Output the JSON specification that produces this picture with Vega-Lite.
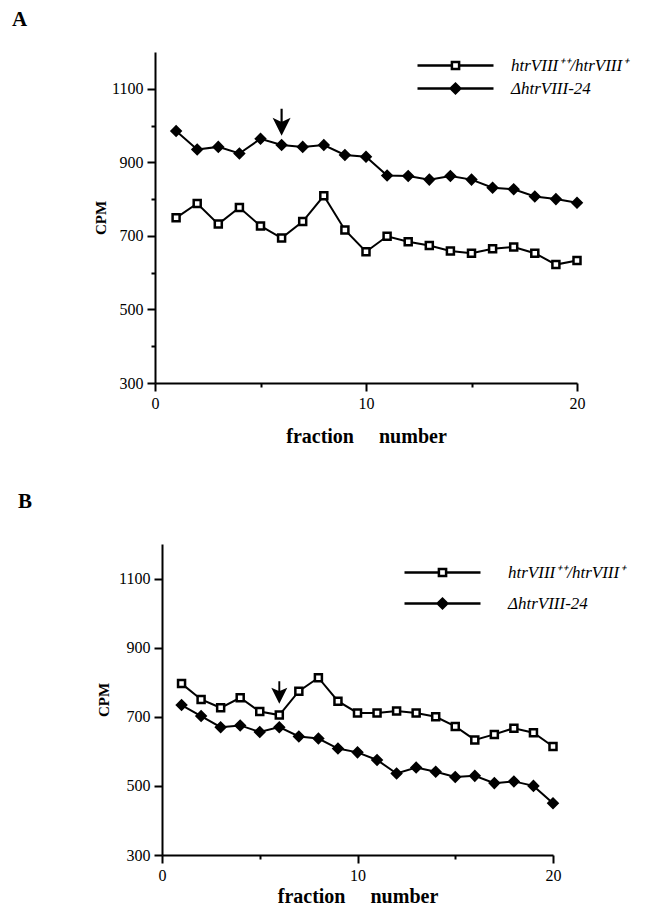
{
  "$schema": "https://vega.github.io/schema/vega-lite/v6.json",
  "background": "white",
  "padding": {"left": 12, "top": 9, "right": 5, "bottom": 0},
  "spacing": 45,
  "resolve": {"scale": {"shape": "independent", "fill": "independent", "stroke": "independent"}, "legend": {"shape": "independent", "fill": "independent", "stroke": "independent"}},
  "datasets": {
    "counts": [
      {"panel": "A", "fraction": 1, "cpm": 985, "strain": "ΔhtrVIII-24"},
      {"panel": "A", "fraction": 2, "cpm": 935, "strain": "ΔhtrVIII-24"},
      {"panel": "A", "fraction": 3, "cpm": 942, "strain": "ΔhtrVIII-24"},
      {"panel": "A", "fraction": 4, "cpm": 924, "strain": "ΔhtrVIII-24"},
      {"panel": "A", "fraction": 5, "cpm": 964, "strain": "ΔhtrVIII-24"},
      {"panel": "A", "fraction": 6, "cpm": 947, "strain": "ΔhtrVIII-24"},
      {"panel": "A", "fraction": 7, "cpm": 942, "strain": "ΔhtrVIII-24"},
      {"panel": "A", "fraction": 8, "cpm": 947, "strain": "ΔhtrVIII-24"},
      {"panel": "A", "fraction": 9, "cpm": 920, "strain": "ΔhtrVIII-24"},
      {"panel": "A", "fraction": 10, "cpm": 915, "strain": "ΔhtrVIII-24"},
      {"panel": "A", "fraction": 11, "cpm": 864, "strain": "ΔhtrVIII-24"},
      {"panel": "A", "fraction": 12, "cpm": 863, "strain": "ΔhtrVIII-24"},
      {"panel": "A", "fraction": 13, "cpm": 853, "strain": "ΔhtrVIII-24"},
      {"panel": "A", "fraction": 14, "cpm": 863, "strain": "ΔhtrVIII-24"},
      {"panel": "A", "fraction": 15, "cpm": 853, "strain": "ΔhtrVIII-24"},
      {"panel": "A", "fraction": 16, "cpm": 831, "strain": "ΔhtrVIII-24"},
      {"panel": "A", "fraction": 17, "cpm": 827, "strain": "ΔhtrVIII-24"},
      {"panel": "A", "fraction": 18, "cpm": 807, "strain": "ΔhtrVIII-24"},
      {"panel": "A", "fraction": 19, "cpm": 800, "strain": "ΔhtrVIII-24"},
      {"panel": "A", "fraction": 20, "cpm": 790, "strain": "ΔhtrVIII-24"},
      {"panel": "A", "fraction": 1, "cpm": 749, "strain": "htrVIII⁺⁺/htrVIII⁺"},
      {"panel": "A", "fraction": 2, "cpm": 788, "strain": "htrVIII⁺⁺/htrVIII⁺"},
      {"panel": "A", "fraction": 3, "cpm": 732, "strain": "htrVIII⁺⁺/htrVIII⁺"},
      {"panel": "A", "fraction": 4, "cpm": 777, "strain": "htrVIII⁺⁺/htrVIII⁺"},
      {"panel": "A", "fraction": 5, "cpm": 727, "strain": "htrVIII⁺⁺/htrVIII⁺"},
      {"panel": "A", "fraction": 6, "cpm": 694, "strain": "htrVIII⁺⁺/htrVIII⁺"},
      {"panel": "A", "fraction": 7, "cpm": 739, "strain": "htrVIII⁺⁺/htrVIII⁺"},
      {"panel": "A", "fraction": 8, "cpm": 809, "strain": "htrVIII⁺⁺/htrVIII⁺"},
      {"panel": "A", "fraction": 9, "cpm": 716, "strain": "htrVIII⁺⁺/htrVIII⁺"},
      {"panel": "A", "fraction": 10, "cpm": 657, "strain": "htrVIII⁺⁺/htrVIII⁺"},
      {"panel": "A", "fraction": 11, "cpm": 699, "strain": "htrVIII⁺⁺/htrVIII⁺"},
      {"panel": "A", "fraction": 12, "cpm": 684, "strain": "htrVIII⁺⁺/htrVIII⁺"},
      {"panel": "A", "fraction": 13, "cpm": 674, "strain": "htrVIII⁺⁺/htrVIII⁺"},
      {"panel": "A", "fraction": 14, "cpm": 659, "strain": "htrVIII⁺⁺/htrVIII⁺"},
      {"panel": "A", "fraction": 15, "cpm": 653, "strain": "htrVIII⁺⁺/htrVIII⁺"},
      {"panel": "A", "fraction": 16, "cpm": 665, "strain": "htrVIII⁺⁺/htrVIII⁺"},
      {"panel": "A", "fraction": 17, "cpm": 670, "strain": "htrVIII⁺⁺/htrVIII⁺"},
      {"panel": "A", "fraction": 18, "cpm": 653, "strain": "htrVIII⁺⁺/htrVIII⁺"},
      {"panel": "A", "fraction": 19, "cpm": 622, "strain": "htrVIII⁺⁺/htrVIII⁺"},
      {"panel": "A", "fraction": 20, "cpm": 633, "strain": "htrVIII⁺⁺/htrVIII⁺"},
      {"panel": "B", "fraction": 1, "cpm": 734, "strain": "ΔhtrVIII-24"},
      {"panel": "B", "fraction": 2, "cpm": 702, "strain": "ΔhtrVIII-24"},
      {"panel": "B", "fraction": 3, "cpm": 670, "strain": "ΔhtrVIII-24"},
      {"panel": "B", "fraction": 4, "cpm": 675, "strain": "ΔhtrVIII-24"},
      {"panel": "B", "fraction": 5, "cpm": 656, "strain": "ΔhtrVIII-24"},
      {"panel": "B", "fraction": 6, "cpm": 670, "strain": "ΔhtrVIII-24"},
      {"panel": "B", "fraction": 7, "cpm": 643, "strain": "ΔhtrVIII-24"},
      {"panel": "B", "fraction": 8, "cpm": 637, "strain": "ΔhtrVIII-24"},
      {"panel": "B", "fraction": 9, "cpm": 608, "strain": "ΔhtrVIII-24"},
      {"panel": "B", "fraction": 10, "cpm": 597, "strain": "ΔhtrVIII-24"},
      {"panel": "B", "fraction": 11, "cpm": 575, "strain": "ΔhtrVIII-24"},
      {"panel": "B", "fraction": 12, "cpm": 536, "strain": "ΔhtrVIII-24"},
      {"panel": "B", "fraction": 13, "cpm": 553, "strain": "ΔhtrVIII-24"},
      {"panel": "B", "fraction": 14, "cpm": 541, "strain": "ΔhtrVIII-24"},
      {"panel": "B", "fraction": 15, "cpm": 526, "strain": "ΔhtrVIII-24"},
      {"panel": "B", "fraction": 16, "cpm": 529, "strain": "ΔhtrVIII-24"},
      {"panel": "B", "fraction": 17, "cpm": 508, "strain": "ΔhtrVIII-24"},
      {"panel": "B", "fraction": 18, "cpm": 513, "strain": "ΔhtrVIII-24"},
      {"panel": "B", "fraction": 19, "cpm": 500, "strain": "ΔhtrVIII-24"},
      {"panel": "B", "fraction": 20, "cpm": 450, "strain": "ΔhtrVIII-24"},
      {"panel": "B", "fraction": 1, "cpm": 796, "strain": "htrVIII⁺⁺/htrVIII⁺"},
      {"panel": "B", "fraction": 2, "cpm": 750, "strain": "htrVIII⁺⁺/htrVIII⁺"},
      {"panel": "B", "fraction": 3, "cpm": 726, "strain": "htrVIII⁺⁺/htrVIII⁺"},
      {"panel": "B", "fraction": 4, "cpm": 755, "strain": "htrVIII⁺⁺/htrVIII⁺"},
      {"panel": "B", "fraction": 5, "cpm": 715, "strain": "htrVIII⁺⁺/htrVIII⁺"},
      {"panel": "B", "fraction": 6, "cpm": 705, "strain": "htrVIII⁺⁺/htrVIII⁺"},
      {"panel": "B", "fraction": 7, "cpm": 774, "strain": "htrVIII⁺⁺/htrVIII⁺"},
      {"panel": "B", "fraction": 8, "cpm": 813, "strain": "htrVIII⁺⁺/htrVIII⁺"},
      {"panel": "B", "fraction": 9, "cpm": 745, "strain": "htrVIII⁺⁺/htrVIII⁺"},
      {"panel": "B", "fraction": 10, "cpm": 711, "strain": "htrVIII⁺⁺/htrVIII⁺"},
      {"panel": "B", "fraction": 11, "cpm": 711, "strain": "htrVIII⁺⁺/htrVIII⁺"},
      {"panel": "B", "fraction": 12, "cpm": 717, "strain": "htrVIII⁺⁺/htrVIII⁺"},
      {"panel": "B", "fraction": 13, "cpm": 711, "strain": "htrVIII⁺⁺/htrVIII⁺"},
      {"panel": "B", "fraction": 14, "cpm": 700, "strain": "htrVIII⁺⁺/htrVIII⁺"},
      {"panel": "B", "fraction": 15, "cpm": 672, "strain": "htrVIII⁺⁺/htrVIII⁺"},
      {"panel": "B", "fraction": 16, "cpm": 633, "strain": "htrVIII⁺⁺/htrVIII⁺"},
      {"panel": "B", "fraction": 17, "cpm": 649, "strain": "htrVIII⁺⁺/htrVIII⁺"},
      {"panel": "B", "fraction": 18, "cpm": 667, "strain": "htrVIII⁺⁺/htrVIII⁺"},
      {"panel": "B", "fraction": 19, "cpm": 654, "strain": "htrVIII⁺⁺/htrVIII⁺"},
      {"panel": "B", "fraction": 20, "cpm": 614, "strain": "htrVIII⁺⁺/htrVIII⁺"}
    ],
    "arrows": [
      {"panel": "A", "fraction": 6, "cpm": 972},
      {"panel": "B", "fraction": 6, "cpm": 738}
    ]
  },
  "config": {
    "view": {"stroke": null},
    "axis": {
      "grid": false,
      "domainColor": "black",
      "domainWidth": 2,
      "tickColor": "black",
      "tickWidth": 2,
      "labelFont": "Liberation Serif",
      "labelFontSize": 16,
      "labelColor": "black",
      "labelFlush": false,
      "labelPadding": 4,
      "titleFont": "Liberation Serif",
      "titleFontWeight": "bold",
      "titleColor": "black"
    },
    "legend": {
      "title": null,
      "orient": "none",
      "padding": 0,
      "symbolSize": 256,
      "symbolStrokeColor": "black",
      "symbolStrokeWidth": 2.5,
      "symbolOpacity": 1,
      "labelFont": "Liberation Serif",
      "labelFontStyle": "italic",
      "labelFontSize": 17,
      "labelColor": "black"
    },
    "title": {"font": "Liberation Serif", "fontWeight": "bold", "fontSize": 21, "color": "black"}
  },
  "vconcat": [
    {
      "title": {"text": "A", "anchor": "start", "frame": "group", "dx": -143, "offset": 22},
      "width": 422,
      "height": 331,
      "layer": [
        {
          "data": {"name": "counts"},
          "transform": [{"filter": "datum.panel == 'A'"}],
          "mark": {"type": "line", "color": "black", "strokeWidth": 2},
          "encoding": {
            "x": {"field": "fraction", "type": "quantitative", "scale": {"domain": [0, 20], "nice": false},
              "axis": {"title": "fraction\u00a0\u00a0\u00a0\u00a0\u00a0number", "titleFontSize": 20, "values": [0, 5, 10, 15, 20],
                "labelExpr": "datum.value % 10 == 0 ? datum.label : ''",
                "tickSize": {"condition": {"test": "datum.value % 10 == 0", "value": 8}, "value": 4},
                "titlePadding": 15}},
            "y": {"field": "cpm", "type": "quantitative", "scale": {"domain": [300, 1200], "nice": false},
              "axis": {"title": "CPM", "titleFontSize": 15, "format": "d", "values": [300, 400, 500, 600, 700, 800, 900, 1000, 1100],
                "labelExpr": "datum.value % 200 == 100 ? datum.label : ''",
                "tickSize": {"condition": {"test": "datum.value % 200 == 100", "value": 8}, "value": 4},
                "titlePadding": 3}},
            "detail": {"field": "strain"}
          }
        },
        {
          "data": {"name": "counts"},
          "transform": [{"filter": "false"}],
          "mark": {"type": "point", "opacity": 1, "filled": true, "strokeWidth": 2.5},
          "encoding": {
            "x": {"field": "fraction", "type": "quantitative"},
            "y": {"field": "cpm", "type": "quantitative"},
            "shape": {"field": "strain", "type": "nominal",
              "scale": {"domain": ["htrVIII⁺⁺/htrVIII⁺", "ΔhtrVIII-24"], "range": ["M-4.75,0H-0.45M0.45,0H4.75M-0.45,-0.45H0.45V0.45H-0.45Z", "M-4.75,0H4.75M-0.6,0L0,-0.6L0.6,0L0,0.6Z"]},
              "legend": {"legendX": 291, "legendY": 4, "labelOffset": 46, "rowPadding": 3}},
            "fill": {"field": "strain", "type": "nominal",
              "scale": {"domain": ["htrVIII⁺⁺/htrVIII⁺", "ΔhtrVIII-24"], "range": ["white", "black"]},
              "legend": {"legendX": 291, "legendY": 4, "labelOffset": 46, "rowPadding": 3}},
            "stroke": {"field": "strain", "type": "nominal",
              "scale": {"domain": ["htrVIII⁺⁺/htrVIII⁺", "ΔhtrVIII-24"], "range": ["black", "black"]},
              "legend": {"legendX": 291, "legendY": 4, "labelOffset": 46, "rowPadding": 3}}
          }
        },
        {
          "data": {"name": "counts"},
          "transform": [{"filter": "datum.panel == 'A'"}],
          "mark": {"type": "point", "filled": true, "stroke": "black", "strokeWidth": 2.5, "opacity": 1},
          "encoding": {
            "x": {"field": "fraction", "type": "quantitative"},
            "y": {"field": "cpm", "type": "quantitative"},
            "shape": {"condition": {"test": "datum.strain === 'ΔhtrVIII-24'", "value": "diamond"}, "value": "square"},
            "fill": {"condition": {"test": "datum.strain === 'ΔhtrVIII-24'", "value": "black"}, "value": "white"},
            "size": {"condition": {"test": "datum.strain === 'ΔhtrVIII-24'", "value": 81}, "value": 49}
          }
        },
        {
          "data": {"name": "arrows"},
          "transform": [{"filter": "datum.panel == 'A'"}],
          "mark": {"type": "point", "shape": "M0,0L-1,-2L-0.12,-1.6L-0.12,-3L0.12,-3L0.12,-1.6L1,-2Z", "size": 324, "filled": true, "color": "black", "opacity": 1},
          "encoding": {
            "x": {"field": "fraction", "type": "quantitative"},
            "y": {"field": "cpm", "type": "quantitative"}
          }
        }
      ]
    },
    {
      "title": {"text": "B", "anchor": "start", "frame": "group", "dx": -137, "offset": 32},
      "width": 398,
      "height": 311,
      "layer": [
        {
          "data": {"name": "counts"},
          "transform": [{"filter": "datum.panel == 'B'"}],
          "mark": {"type": "line", "color": "black", "strokeWidth": 2},
          "encoding": {
            "x": {"field": "fraction", "type": "quantitative", "scale": {"domain": [0, 20], "nice": false, "range": [7, 398]},
              "axis": {"title": "fraction\u00a0\u00a0\u00a0\u00a0\u00a0number", "titleFontSize": 20, "values": [0, 5, 10, 15, 20],
                "labelExpr": "datum.value % 10 == 0 ? datum.label : ''",
                "tickSize": {"condition": {"test": "datum.value % 10 == 0", "value": 8}, "value": 4},
                "titlePadding": 3}},
            "y": {"field": "cpm", "type": "quantitative", "scale": {"domain": [300, 1200], "nice": false},
              "axis": {"title": "CPM", "titleFontSize": 15, "format": "d", "values": [300, 400, 500, 600, 700, 800, 900, 1000, 1100],
                "labelExpr": "datum.value % 200 == 100 ? datum.label : ''",
                "tickSize": {"condition": {"test": "datum.value % 200 == 100", "value": 8}, "value": 4},
                "titlePadding": 7, "offset": -7}},
            "detail": {"field": "strain"}
          }
        },
        {
          "data": {"name": "counts"},
          "transform": [{"filter": "false"}],
          "mark": {"type": "point", "opacity": 1, "filled": true, "strokeWidth": 2.5},
          "encoding": {
            "x": {"field": "fraction", "type": "quantitative"},
            "y": {"field": "cpm", "type": "quantitative"},
            "shape": {"field": "strain", "type": "nominal",
              "scale": {"domain": ["htrVIII⁺⁺/htrVIII⁺", "ΔhtrVIII-24"], "range": ["M-4.75,0H-0.45M0.45,0H4.75M-0.45,-0.45H0.45V0.45H-0.45Z", "M-4.75,0H4.75M-0.6,0L0,-0.6L0.6,0L0,0.6Z"]},
              "legend": {"legendX": 278, "legendY": 19, "labelOffset": 56, "rowPadding": 11}},
            "fill": {"field": "strain", "type": "nominal",
              "scale": {"domain": ["htrVIII⁺⁺/htrVIII⁺", "ΔhtrVIII-24"], "range": ["white", "black"]},
              "legend": {"legendX": 278, "legendY": 19, "labelOffset": 56, "rowPadding": 11}},
            "stroke": {"field": "strain", "type": "nominal",
              "scale": {"domain": ["htrVIII⁺⁺/htrVIII⁺", "ΔhtrVIII-24"], "range": ["black", "black"]},
              "legend": {"legendX": 278, "legendY": 19, "labelOffset": 56, "rowPadding": 11}}
          }
        },
        {
          "data": {"name": "counts"},
          "transform": [{"filter": "datum.panel == 'B'"}],
          "mark": {"type": "point", "filled": true, "stroke": "black", "strokeWidth": 2.5, "opacity": 1},
          "encoding": {
            "x": {"field": "fraction", "type": "quantitative"},
            "y": {"field": "cpm", "type": "quantitative"},
            "shape": {"condition": {"test": "datum.strain === 'ΔhtrVIII-24'", "value": "diamond"}, "value": "square"},
            "fill": {"condition": {"test": "datum.strain === 'ΔhtrVIII-24'", "value": "black"}, "value": "white"},
            "size": {"condition": {"test": "datum.strain === 'ΔhtrVIII-24'", "value": 81}, "value": 49}
          }
        },
        {
          "data": {"name": "arrows"},
          "transform": [{"filter": "datum.panel == 'B'"}],
          "mark": {"type": "point", "shape": "M0,0L-1,-2L-0.12,-1.6L-0.12,-2.8L0.12,-2.8L0.12,-1.6L1,-2Z", "size": 256, "filled": true, "color": "black", "opacity": 1},
          "encoding": {
            "x": {"field": "fraction", "type": "quantitative"},
            "y": {"field": "cpm", "type": "quantitative"}
          }
        }
      ]
    }
  ]
}
